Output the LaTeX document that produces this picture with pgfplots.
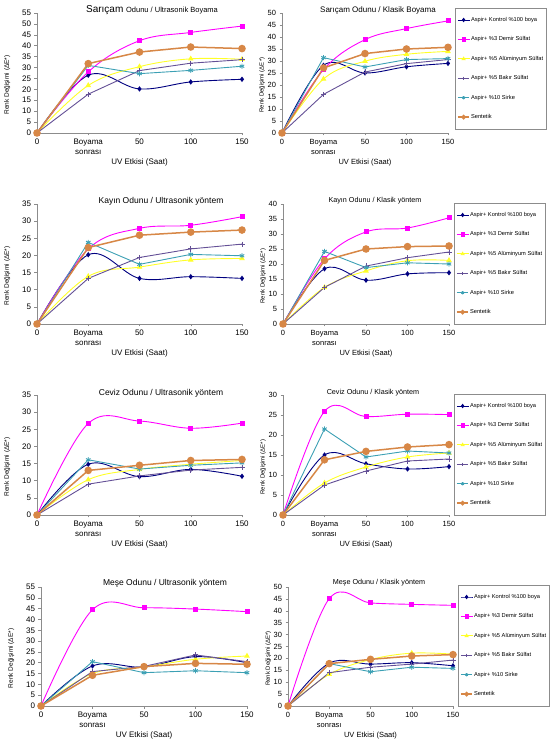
\documentclass[border=0pt]{standalone}
\usepackage{fontspec}
\setmainfont{Liberation Sans}
\usepackage{pgfplots}
\usepackage{pgfplotstable}
\pgfplotsset{compat=1.18}
\definecolor{cK}{RGB}{0,0,128}
\definecolor{cD}{RGB}{255,0,255}
\definecolor{cA}{RGB}{255,255,40}
\definecolor{cB}{RGB}{100,80,150}
\definecolor{cS}{RGB}{60,160,180}
\definecolor{cN}{RGB}{215,135,70}
\definecolor{axgray}{RGB}{140,140,140}

% Sarıçam Ultrasonik
\pgfplotstableread{
x k d a b s n
0 0 0 0 0 0 0
1 26.5 28.0 21.8 17.8 31.0 31.8
2 20.2 42.3 30.4 28.6 27.2 37.1
3 23.4 46.1 34.0 32.0 28.7 39.4
4 24.6 49.0 33.8 33.6 30.6 38.7
}\tA
% Sarıçam Klasik
\pgfplotstableread{
x k d a b s n
0 0 0 0 0 0 0
1 28.2 26.4 22.5 16.1 31.4 27.1
2 25.0 38.9 29.9 25.4 27.5 33.1
3 27.6 43.5 32.8 28.9 30.6 35.0
4 29.0 46.7 34.0 30.6 31.0 35.7
}\tB
% Kayın Ultrasonik
\pgfplotstableread{
x k d a b s n
0 0 0 0 0 0 0
1 20.2 21.9 13.9 13.3 23.8 22.3
2 13.3 27.9 16.6 19.4 17.4 25.9
3 13.8 28.8 18.7 21.9 20.3 26.8
4 13.3 31.3 19.1 23.3 19.9 27.4
}\tC
% Kayın Klasik
\pgfplotstableread{
x k d a b s n
0 0 0 0 0 0 0
1 18.4 21.7 12.2 12.2 24.2 21.2
2 14.6 30.7 17.7 19.3 18.8 25.0
3 16.7 32.0 21.1 22.1 20.4 25.8
4 17.1 35.4 21.2 24.0 20.0 26.0
}\tD
% Ceviz Ultrasonik
\pgfplotstableread{
x k d a b s n
0 0 0 0 0 0 0
1 14.8 26.7 10.3 9.0 16.1 13.0
2 11.2 27.4 13.3 11.4 13.4 14.5
3 13.3 25.3 14.8 13.1 14.5 15.9
4 11.3 26.8 15.9 13.9 15.2 16.2
}\tE
% Ceviz Klasik
\pgfplotstableread{
x k d a b s n
0 0 0 0 0 0 0
1 15.0 25.9 8.0 7.5 21.5 13.8
2 12.8 24.6 12.0 11.0 14.5 15.9
3 11.5 25.2 14.5 13.5 16.0 17.0
4 12.1 25.1 15.5 14.0 15.5 17.6
}\tF
% Meşe Ultrasonik
\pgfplotstableread{
x k d a b s n
0 0 0 0 0 0 0
1 18.5 44.5 15.0 15.9 20.5 14.2
2 18.0 45.4 18.0 18.3 15.4 18.2
3 22.8 44.8 21.6 23.6 16.3 19.7
4 20.0 43.6 23.1 20.5 15.4 19.3
}\tG
% Meşe Klasik
\pgfplotstableread{
x k d a b s n
0 0 0 0 0 0 0
1 18.0 45.1 13.3 14.0 17.8 17.8
2 17.6 43.3 19.5 16.3 14.4 19.6
3 18.2 42.7 22.2 17.6 16.3 21.0
4 16.9 42.3 21.8 19.3 15.8 21.6
}\tH

\pgfplotsset{
  base/.style={
    scale only axis, anchor=south west, clip=false,
    xmin=0, xmax=4, ymin=0,
    xtick={0,1,2,3,4},
    xticklabels={0,{Boyama\\sonrası},50,100,150},
    ytick distance=5,
    axis lines*=left,
    axis line style={axgray, line width=0.6pt, -},
    tick style={axgray, line width=0.5pt},
    tick align=outside, major tick length=2.5pt,
    /pgf/number format/assume math mode=true,
    xticklabel style={align=center},
    xlabel={UV Etkisi (Saat)},
    ylabel={Renk Değişimi (ΔE*)},
    xlabel style={at={(axis description cs:0.5,-0.245)}, anchor=center},
    legend image code/.code={\draw[mark repeat=2,mark phase=2] plot coordinates {(0cm,0cm) (0.2cm,0cm) (0.4cm,0cm)};},
    legend image post style={mark size=1.6pt},
  },
  lp/.style={base, width=205pt, height=120pt,
    tick label style={font=\fontsize{8}{10}\selectfont},
    xlabel style={font=\fontsize{8}{9}\selectfont},
    ylabel style={font=\fontsize{6.5}{7}\selectfont, at={(axis description cs:-0.145,0.4)}, anchor=center},
  },
  rp/.style={base, width=166pt, height=120pt,
    tick label style={font=\fontsize{7.5}{10}\selectfont},
    xlabel style={font=\fontsize{7.5}{9}\selectfont},
    ylabel style={font=\fontsize{6}{7}\selectfont, at={(axis description cs:-0.12,0.4)}, anchor=center},
    legend style={anchor=north west, draw=axgray, fill=white,
      font=\fontsize{5.7}{6}\selectfont, legend cell align=left,
      row sep=11.8pt, inner xsep=2pt, inner ysep=8pt,
      nodes={inner sep=1pt}},
  },
  sK/.style={cK, line width=0.9pt, mark=diamond*, mark size=2pt, smooth, tension=0.6, mark options={solid, fill=cK}},
  sD/.style={cD, line width=0.9pt, mark=square*, mark size=2pt, smooth, tension=0.6, mark options={solid, fill=cD}},
  sA/.style={cA, line width=0.9pt, mark=triangle*, mark size=2.4pt, smooth, tension=0.6, mark options={solid, fill=cA}},
  sB/.style={cB, line width=0.9pt, mark=+, mark size=2.6pt, mark options={solid}},
  sS/.style={cS, line width=0.9pt, mark=asterisk, mark size=2.6pt, mark options={solid}},
  sN/.style={cN, line width=1.5pt, mark=*, mark size=3pt, mark options={solid, fill=cN}},
}

\newcommand{\allseries}[1]{%
  \addplot[sK] table[x=x,y=k]{#1};
  \addplot[sD] table[x=x,y=d]{#1};
  \addplot[sA] table[x=x,y=a]{#1};
  \addplot[sB] table[x=x,y=b]{#1};
  \addplot[sS] table[x=x,y=s]{#1};
  \addplot[sN] table[x=x,y=n]{#1};
}
\newcommand{\thelegend}{\legend{Aspir+ Kontrol \%100 boya, Aspir+ \%3 Demir Sülfat, Aspir+ \%5 Alüminyum Sülfat, Aspir+ \%5 Bakır Sülfat, Aspir+ \%10 Sirke, Sentetik}}

\begin{document}
\begin{tikzpicture}
\path[use as bounding box] (0,0) rectangle (556pt,739pt);

% Row 1
\begin{axis}[lp, at={(37pt,606pt)}, ymax=55]
\allseries{\tA}
\end{axis}
\begin{axis}[rp, at={(282pt,606pt)}, ymax=50,
  legend style={at={(axis description cs:1.042,1.042)}}]
\allseries{\tB}
\thelegend
\end{axis}

% Row 2
\begin{axis}[lp, at={(37pt,415pt)}, ymax=35]
\allseries{\tC}
\end{axis}
\begin{axis}[rp, at={(283pt,415pt)}, ymax=40,
  legend style={at={(axis description cs:1.03,1.008)}}]
\allseries{\tD}
\thelegend
\end{axis}

% Row 3
\begin{axis}[lp, at={(37pt,224pt)}, ymax=35]
\allseries{\tE}
\end{axis}
\begin{axis}[rp, at={(283pt,224pt)}, ymax=30,
  legend style={at={(axis description cs:1.03,1.008)}}]
\allseries{\tF}
\thelegend
\end{axis}

% Row 4
\begin{axis}[lp, at={(41pt,33pt)}, width=206pt, height=119pt, ymax=55]
\allseries{\tG}
\end{axis}
\begin{axis}[rp, at={(288pt,33pt)}, width=165pt, height=119pt, ymax=50,
  legend style={at={(axis description cs:1.03,1.017)}}]
\allseries{\tH}
\thelegend
\end{axis}

% Titles
\node at (152pt,729pt) {\fontsize{10}{11}\selectfont Sarıçam \fontsize{7.5}{9}\selectfont Odunu / Ultrasonik Boyama};
\node at (378pt,729pt) {\fontsize{8}{9}\selectfont Sarıçam Odunu / Klasik Boyama};
\node at (161pt,538pt) {\fontsize{8.5}{9}\selectfont Kayın Odunu / Ultrasonik yöntem};
\node at (375pt,538pt) {\fontsize{7.2}{9}\selectfont Kayın Odunu / Klasik yöntem};
\node at (161pt,346pt) {\fontsize{8.5}{9}\selectfont Ceviz Odunu / Ultrasonik yöntem};
\node at (373pt,346pt) {\fontsize{7.2}{9}\selectfont Ceviz Odunu / Klasik yöntem};
\node at (165pt,156pt) {\fontsize{8.5}{9}\selectfont Meşe Odunu / Ultrasonik yöntem};
\node at (379pt,156pt) {\fontsize{7.2}{9}\selectfont Meşe Odunu / Klasik yöntem};
\end{tikzpicture}
\end{document}
